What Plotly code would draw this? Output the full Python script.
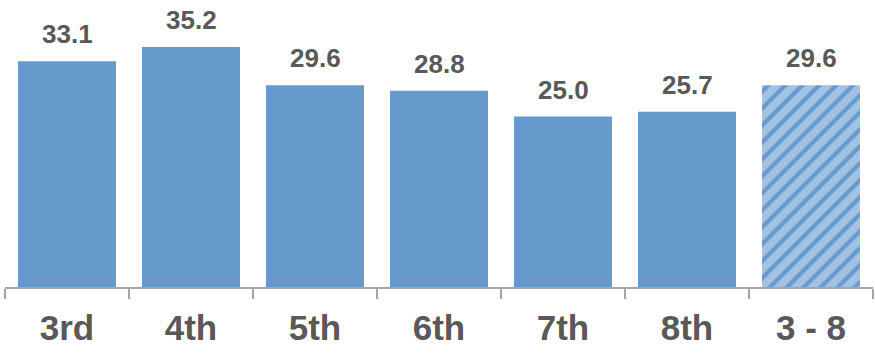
import plotly.graph_objects as go

grades = ["3rd", "4th", "5th", "6th", "7th", "8th", "3 - 8"]
values = [33.1, 35.2, 29.6, 28.8, 25.0, 25.7, 29.6]

solid_blue = "#6699CC"
pale_blue = "#A2C2E4"
text_gray = "#595959"

fig = go.Figure()

# Individual grades: solid bars
fig.add_trace(go.Bar(
    x=grades[:-1], y=values[:-1],
    marker=dict(color=solid_blue, line=dict(width=0)),
    hoverinfo="skip",
))

# All-grades summary: hatched bar
fig.add_trace(go.Bar(
    x=grades[-1:], y=values[-1:],
    marker=dict(
        color=pale_blue,
        line=dict(width=0),
        pattern=dict(
            shape="/",
            fgcolor=solid_blue,
            fgopacity=1,
            bgcolor=pale_blue,
            size=12,
            solidity=0.35,
        ),
    ),
    hoverinfo="skip",
))

for g, v in zip(grades, values):
    fig.add_annotation(
        x=g, y=v, text=f"{v:.1f}", showarrow=False,
        yanchor="bottom", yshift=10,
        font=dict(family="Liberation Sans, Arial", size=26, color=text_gray,
                  weight="bold"),
    )

fig.update_layout(
    width=875, height=354,
    margin=dict(l=5, r=2, t=0, b=67),
    paper_bgcolor="white", plot_bgcolor="white",
    barmode="overlay",
    bargap=0.21,
    showlegend=False,
    font=dict(family="Liberation Sans, Arial", color=text_gray),
)
fig.update_xaxes(
    categoryorder="array", categoryarray=grades,
    showline=True, linecolor="#A6A6A6", linewidth=1.5,
    ticks="outside", tickson="boundaries", ticklen=10,
    tickcolor="#A6A6A6", tickwidth=1.5,
    ticklabelstandoff=9,
    tickfont=dict(family="Liberation Sans, Arial", size=35, color=text_gray,
                  weight="bold"),
    showgrid=False,
)
fig.update_yaxes(visible=False, range=[0, 42.1], showgrid=False)

fig.write_html("out.html")
